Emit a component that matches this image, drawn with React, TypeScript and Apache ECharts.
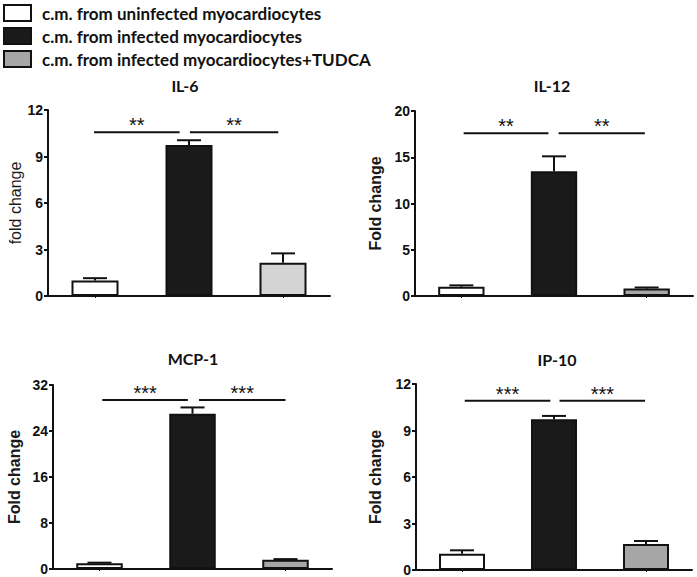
import React, { useEffect, useRef } from 'react';
import * as echarts from 'echarts';

const groups = [
  'c.m. from uninfected myocardiocytes',
  'c.m. from infected myocardiocytes',
  'c.m. from infected myocardiocytes+TUDCA',
];
const categories = ['uninfected', 'infected', 'infected+TUDCA'];
const panelTitles = ['IL-6', 'IL-12', 'MCP-1', 'IP-10'];
const yLabels = ['fold change', 'Fold change', 'Fold change', 'Fold change'];
const yMax = [12, 20, 32, 12];
const yInterval = [3, 5, 8, 3];

const il6Means = [1.0, 9.75, 2.15];
const il6Errors = [0.15, 0.3, 0.6];
const il12Means = [1.0, 13.5, 0.8];
const il12Errors = [0.15, 1.6, 0.12];
const mcp1Means = [1.0, 27.0, 1.6];
const mcp1Errors = [0.1, 1.1, 0.12];
const ip10Means = [1.05, 9.72, 1.68];
const ip10Errors = [0.22, 0.22, 0.19];

const sigStars = [
  ['**', '**'],
  ['**', '**'],
  ['***', '***'],
  ['***', '***'],
];
const sigHeights = [10.56, 17.6, 29.4, 10.92];
// start / end of each bracket, in category units from the first category centre
const sigSpans = [
  [[-0.01, 0.9], [1.01, 1.95]],
  [[0.025, 0.94], [1.05, 1.98]],
  [[0.03, 0.95], [1.07, 2.0]],
  [[0.03, 0.96], [1.06, 1.99]],
];

const means = [il6Means, il12Means, mcp1Means, ip10Means];
const errors = [il6Errors, il12Errors, mcp1Errors, ip10Errors];

const groupColors = ['#ffffff', '#1a1a1a', '#a6a6a6'];
const il6TudcaColor = '#d4d4d4';

const grids = [
  { left: 48, top: 110, width: 282, height: 186 },
  { left: 415, top: 111, width: 278, height: 185 },
  { left: 53, top: 385, width: 279, height: 184 },
  { left: 416, top: 384, width: 276, height: 186 },
];
const nameGaps = [24, 32, 31, 33];
const titlePos = [
  [185, 85],
  [552, 85],
  [193, 358],
  [557, 359],
];

export default function App() {
  const ref = useRef<HTMLDivElement>(null);
  useEffect(() => {
    if (!ref.current) return;
    const chart = echarts.init(ref.current, undefined, { renderer: 'svg' });

    const xAxis = grids.map((_, p) => ({
      type: 'category',
      gridIndex: p,
      data: categories,
      axisLine: { show: true, lineStyle: { color: '#111', width: 2 } },
      axisTick: { show: true, alignWithLabel: true, length: 2, lineStyle: { color: '#111', width: 1 } },
      axisLabel: { show: false },
      splitLine: { show: false },
    }));
    const yAxis = grids.map((_, p) => ({
      type: 'value',
      gridIndex: p,
      min: 0,
      max: yMax[p],
      interval: yInterval[p],
      name: yLabels[p],
      nameLocation: 'middle',
      nameGap: nameGaps[p],
      nameRotate: 90,
      nameTextStyle: {
        fontFamily: 'Liberation Sans',
        fontSize: 16,
        fontWeight: p === 0 ? 'normal' : 'bold',
        color: '#1a1a1a',
      },
      axisLine: { show: true, lineStyle: { color: '#111', width: 2 } },
      axisTick: { show: true, length: 4, lineStyle: { color: '#111', width: 2 } },
      axisLabel: {
        fontFamily: 'Liberation Sans',
        fontSize: 14,
        fontWeight: 'bold',
        color: '#111',
        margin: 5,
      },
      splitLine: { show: false },
    }));

    const series: any[] = [];
    grids.forEach((_, p) => {
      groups.forEach((g, gi) => {
        series.push({
          type: 'bar',
          name: g,
          xAxisIndex: p,
          yAxisIndex: p,
          barWidth: '50%',
          barGap: '-100%',
          itemStyle: { color: groupColors[gi], borderColor: '#111', borderWidth: 2 },
          data: categories.map((_, ci) => {
            if (ci !== gi) return '-';
            if (p === 0 && gi === 2) {
              return { value: means[p][ci], itemStyle: { color: il6TudcaColor } };
            }
            return means[p][ci];
          }),
        });
      });
      series.push({
        type: 'custom',
        xAxisIndex: p,
        yAxisIndex: p,
        z: 5,
        data: categories.map((_, ci) => [ci, means[p][ci], errors[p][ci]]),
        renderItem: (params: any, api: any) => {
          const cat = api.value(0);
          const m = api.value(1);
          const e = api.value(2);
          const b = api.coord([cat, m]);
          const t = api.coord([cat, m + e]);
          const hw = 12;
          return {
            type: 'group',
            children: [
              { type: 'line', shape: { x1: b[0], y1: b[1], x2: t[0], y2: t[1] }, style: { stroke: '#111', lineWidth: 2 } },
              { type: 'line', shape: { x1: t[0] - hw, y1: t[1], x2: t[0] + hw, y2: t[1] }, style: { stroke: '#111', lineWidth: 2 } },
            ],
          };
        },
      });
      series.push({
        type: 'custom',
        xAxisIndex: p,
        yAxisIndex: p,
        z: 5,
        data: sigSpans[p].map((s) => [0, sigHeights[p], s[0], s[1]]),
        renderItem: (params: any, api: any) => {
          const c0 = api.coord([0, api.value(1)]);
          const band = api.size([1, 0])[0];
          const x1 = c0[0] + api.value(2) * band;
          const x2 = c0[0] + api.value(3) * band;
          const y = c0[1];
          return {
            type: 'group',
            children: [
              { type: 'line', shape: { x1, y1: y, x2, y2: y }, style: { stroke: '#111', lineWidth: 2 } },
              {
                type: 'text',
                x: (x1 + x2) / 2,
                y: y - 7,
                style: {
                  text: sigStars[p][params.dataIndex],
                  align: 'center',
                  verticalAlign: 'middle',
                  fontSize: 20,
                  fontFamily: 'Liberation Sans',
                  fill: '#111',
                },
              },
            ],
          };
        },
      });
    });

    const option: any = {
      animation: false,
      backgroundColor: '#ffffff',
      grid: grids.map((g) => ({ ...g, containLabel: false })),
      xAxis,
      yAxis,
      legend: {
        orient: 'vertical',
        left: 3,
        top: 4,
        padding: 0,
        itemWidth: 27,
        itemHeight: 16,
        itemGap: 5,
        icon: 'rect',
        selectedMode: false,
        data: groups,
        textStyle: {
          fontFamily: 'Lato',
          fontWeight: 'bold',
          fontSize: 17,
          color: '#111',
          padding: [0, 0, 0, 6],
        },
      },
      graphic: panelTitles.map((t, p) => ({
        type: 'text',
        x: titlePos[p][0],
        y: titlePos[p][1],
        style: {
          text: t,
          align: 'center',
          verticalAlign: 'middle',
          fontFamily: 'Lato',
          fontWeight: 'bold',
          fontSize: 16,
          fill: '#111',
        },
      })),
      series,
    };
    chart.setOption(option);
    return () => chart.dispose();
  }, []);
  return (
    <div
      ref={ref}
      style={{ position: 'absolute', left: 0, top: 0, width: 697, height: 577, background: '#fff' }}
    />
  );
}
